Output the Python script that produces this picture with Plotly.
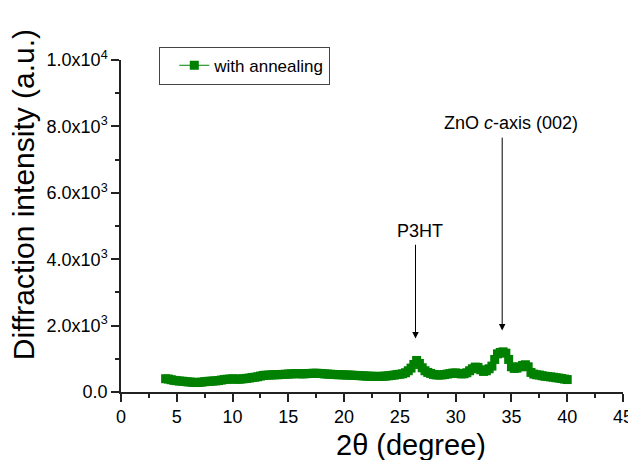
import numpy as np
import plotly.graph_objects as go

# 2-theta sampling (degrees) and diffraction intensity
two_theta_start = 4.0
two_theta_step = 0.25
intensity = [
    400, 390, 370, 350, 340, 330, 325, 315, 305, 300,   # 4.00 - 6.25
    290, 285, 290, 300, 310, 320, 325, 330, 335, 345,   # 6.50 - 8.75
    360, 375, 385, 390, 395, 390, 385, 390, 400, 410,   # 9.00 - 11.25
    420, 435, 445, 460, 480, 500, 505, 510, 515, 520,   # 11.50 - 13.75
    520, 525, 530, 535, 540, 545, 550, 555, 550, 545,   # 14.00 - 16.25
    550, 555, 560, 565, 565, 560, 555, 545, 540, 535,   # 16.50 - 18.75
    530, 525, 520, 520, 515, 510, 510, 505, 500, 495,   # 19.00 - 21.25
    490, 485, 480, 475, 475, 470, 470, 470, 475, 480,   # 21.50 - 23.75
    490, 500, 510, 525, 535, 550, 580, 640, 720, 830,   # 24.00 - 26.25
    950, 860, 730, 640, 590, 560, 530, 515, 510, 515,   # 26.50 - 28.75
    525, 540, 555, 570, 575, 560, 545, 550, 580, 640,   # 29.00 - 31.25
    700, 750, 740, 670, 620, 640, 700, 780, 980, 1150,  # 31.50 - 33.75
    1190, 1210, 1170, 980, 760, 710, 720, 760, 800, 820, # 34.00 - 36.25
    760, 590, 540, 520, 510, 490, 475, 465, 455, 445,   # 36.50 - 38.75
    430, 420, 405, 390, 375,                            # 39.00 - 40.00
]
two_theta = two_theta_start + two_theta_step * np.arange(len(intensity))

series_name = "with annealing"
x_title = "2θ (degree)"
y_title = "Diffraction intensity (a.u.)"
x_ticks = [0, 5, 10, 15, 20, 25, 30, 35, 40, 45]
x_minor = [2.5, 7.5, 12.5, 17.5, 22.5, 27.5, 32.5, 37.5, 42.5]
y_ticks = [0, 2000, 4000, 6000, 8000, 10000]
y_tick_labels = ["0.0", "2.0x10<sup>3</sup>", "4.0x10<sup>3</sup>", "6.0x10<sup>3</sup>",
                 "8.0x10<sup>3</sup>", "1.0x10<sup>4</sup>"]
y_minor = [1000, 3000, 5000, 7000, 9000]

# peak labels: text, arrow x, arrow head y, arrow tail y, text x, text y
peak_labels = ["P3HT", "ZnO <i>c</i>-axis (002)"]
peak_x = [26.4, 34.17]
peak_head_y = [1614, 1855]
peak_tail_y = [4480, 7707]
label_x = [26.76, 34.96]
label_y = [4860, 8103]

GREEN = "#008000"
AXIS = "#222222"
FONT = "Liberation Sans, Arial, sans-serif"

fig = go.Figure()
fig.add_trace(go.Scatter(
    x=two_theta, y=intensity, name=series_name,
    mode="lines+markers",
    line=dict(color=GREEN, width=1),
    marker=dict(symbol="square", size=9, color=GREEN),
))

for txt, px, hy, ty, lx, ly in zip(peak_labels, peak_x, peak_head_y, peak_tail_y, label_x, label_y):
    fig.add_annotation(x=px, y=hy, ax=px, ay=ty, axref="x", ayref="y",
                       xref="x", yref="y", text="", showarrow=True,
                       arrowhead=2, arrowsize=1.3, arrowwidth=1, arrowcolor="black")
    fig.add_annotation(x=lx, y=ly, xref="x", yref="y", text=txt, showarrow=False,
                       font=dict(family=FONT, size=18, color="black"))

# axis titles
fig.add_annotation(x=0.578, y=-0.161, xref="paper", yref="paper", text=x_title,
                   showarrow=False, xanchor="center", yanchor="middle",
                   font=dict(family=FONT, size=29, color="black"))
fig.add_annotation(x=-0.1952, y=0.593, xref="paper", yref="paper", text=y_title,
                   showarrow=False, xanchor="center", yanchor="middle", textangle=-90,
                   font=dict(family=FONT, size=30, color="black"))

# the page body has an 8 px margin, so the figure is 8 px smaller and margins shifted
fig.update_layout(
    width=628, height=452,
    margin=dict(l=113, r=13, t=52, b=68, autoexpand=False),
    paper_bgcolor="white", plot_bgcolor="white",
    font=dict(family=FONT, size=18, color="black"),
    showlegend=True,
    legend=dict(x=0.0763, y=1.04, xanchor="left", yanchor="top",
                bordercolor="#444444", borderwidth=1, bgcolor="white",
                font=dict(family=FONT, size=17, color="black"),
                indentation=14,
                itemsizing="trace", tracegroupgap=0),
    xaxis=dict(
        range=[0, 45], tickmode="array", tickvals=x_ticks, automargin=False,
        showline=True, linecolor=AXIS, linewidth=1.5, mirror=False,
        ticks="outside", ticklen=8, tickwidth=1.5, tickcolor=AXIS,
        showgrid=False, zeroline=False,
        tickfont=dict(family=FONT, size=18, color="black"),
        minor=dict(tickvals=x_minor, ticks="outside", ticklen=4, tickwidth=1.5, tickcolor=AXIS, showgrid=False),
    ),
    yaxis=dict(
        range=[0, 10000], tickmode="array", tickvals=y_ticks, ticktext=y_tick_labels, automargin=False,
        showline=True, linecolor=AXIS, linewidth=1.5, mirror=False,
        ticks="outside", ticklen=8, tickwidth=1.5, tickcolor=AXIS,
        showgrid=False, zeroline=False,
        tickfont=dict(family=FONT, size=18, color="black"),
        minor=dict(tickvals=y_minor, ticks="outside", ticklen=4, tickwidth=1.5, tickcolor=AXIS, showgrid=False),
    ),
)

fig.write_html("out.html")
